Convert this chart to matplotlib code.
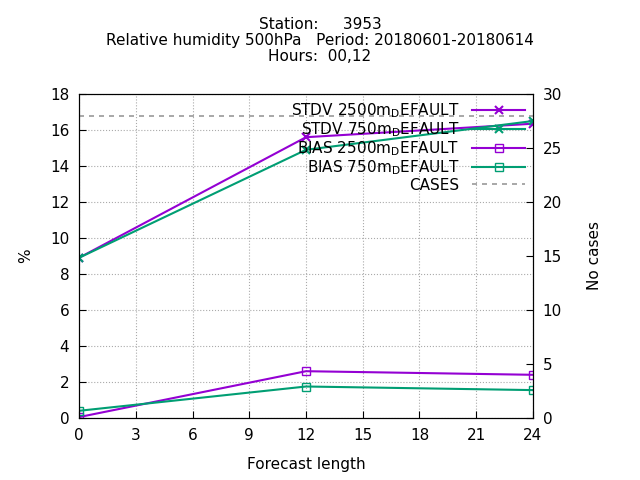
import matplotlib
matplotlib.use("Agg")
import matplotlib.pyplot as plt

hours = [0, 12, 24]
stdv_2500 = [8.9, 15.6, 16.35]
stdv_750 = [8.9, 14.9, 16.5]
bias_2500 = [0.05, 2.6, 2.4]
bias_750 = [0.4, 1.75, 1.55]
cases_hours = [0, 24]
cases = [28, 28]

PURPLE = "#9400D3"
GREEN = "#009E73"

fig = plt.figure(figsize=(6.4, 4.8), dpi=100)
ax = fig.add_axes([79 / 640, 62 / 480, 454 / 640, 324 / 480])
ax2 = ax.twinx()

ax.plot(hours, stdv_2500, color=PURPLE, lw=1.5, marker="x", ms=6, mew=1.5,
        label="STDV 2500m$_{\\mathrm{D}}$EFAULT")
ax.plot(hours, stdv_750, color=GREEN, lw=1.5, marker="x", ms=6, mew=1.5,
        label="STDV 750m$_{\\mathrm{D}}$EFAULT")
ax.plot(hours, bias_2500, color=PURPLE, lw=1.5, marker="s", ms=6, mfc="none",
        label="BIAS 2500m$_{\\mathrm{D}}$EFAULT")
ax.plot(hours, bias_750, color=GREEN, lw=1.5, marker="s", ms=6, mfc="none",
        label="BIAS 750m$_{\\mathrm{D}}$EFAULT")
ax2.plot(cases_hours, cases, color="#999999", lw=1.2, ls=(0, (3, 3)), label="CASES")

ax.set_xlim(0, 24)
ax.set_ylim(0, 18)
ax2.set_ylim(0, 30)
ax.set_xticks(range(0, 25, 3))
ax.set_yticks(range(0, 19, 2))
ax2.set_yticks(range(0, 31, 5))
ax.grid(color="#aaaaaa", ls=":", lw=0.8)
for a in (ax, ax2):
    a.tick_params(direction="in", labelsize=11, length=5, pad=7)
ax.set_xlabel("Forecast length", fontsize=11, labelpad=10)
ax.set_ylabel("%", fontsize=11, labelpad=12)
ax2.set_ylabel("No cases", fontsize=11, labelpad=18)

h1, l1 = ax.get_legend_handles_labels()
h2, l2 = ax2.get_legend_handles_labels()
leg = ax2.legend(h1 + h2, l1 + l2, loc="upper right", frameon=False, fontsize=11,
                 markerfirst=False, handlelength=3.5, borderaxespad=0.1,
                 labelspacing=0.02)
for t in leg.get_texts():
    t.set_ha("right")

fig.text(0.5, 0.965, "Station:     3953\nRelative humidity 500hPa   Period: 20180601-20180614\nHours:  00,12",
         ha="center", va="top", fontsize=11, linespacing=1.1)

fig.savefig("out.png", dpi=100)
